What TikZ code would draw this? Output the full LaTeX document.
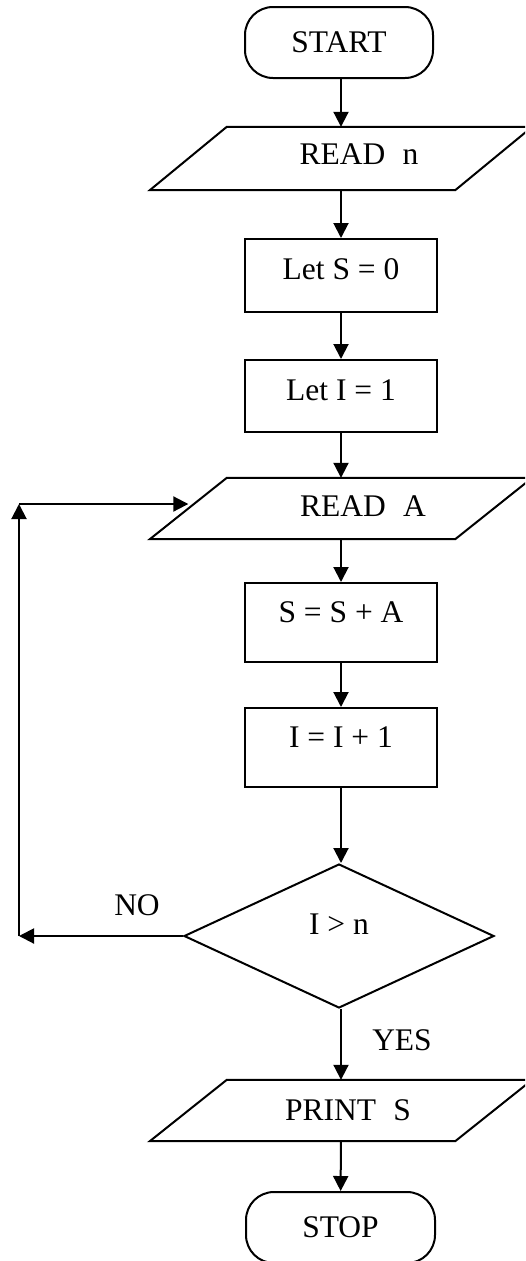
\documentclass[tikz,border=0pt]{standalone}
\usepackage{fontspec}
\setmainfont{Liberation Serif}
\usetikzlibrary{arrows.meta,shapes.geometric}
\tikzset{
  every node/.style={font=\fontsize{31.5}{36}\selectfont, inner sep=0pt},
  ln/.style={line width=2pt},
  arr/.style={ln, -{Triangle[length=15pt,width=15pt]}},
  term/.style={ln, draw, rectangle, rounded corners=28pt, minimum width=188pt, minimum height=71pt},
  procbox/.style={ln, draw, rectangle, minimum width=192pt},
  iobox/.style={rectangle, minimum width=305pt},
  decbox/.style={ln, draw, diamond, minimum width=310pt, minimum height=144pt},
}
\newcommand{\para}[1]{%
  \draw[ln] ([xshift=38.5pt]#1.north west) -- ([xshift=38.5pt]#1.north east)
    -- ([xshift=-38.5pt]#1.south east) -- ([xshift=-38.5pt]#1.south west) -- cycle;}
\begin{document}
\begin{tikzpicture}[x=1pt,y=-1pt]
\useasboundingbox (0,0) rectangle (525,1261);
\clip (0,0) rectangle (525,1261);
\node[term] (start) at (339,42.5) {START};
\node[iobox, minimum height=63pt, label={[xshift=18pt,yshift=4pt]center:{READ\hspace{0.55em}n}}] (readn) at (341,158.5) {};
\para{readn}
\node[procbox, minimum height=73pt, label={[yshift=6pt]center:{Let S = 0}}] (lets) at (341,275.5) {};
\node[procbox, minimum height=72pt, label={[yshift=6pt]center:{Let I = 1}}] (leti) at (341,396) {};
\node[iobox, minimum height=61pt, label={[xshift=22pt,yshift=2pt]center:{READ\hspace{0.55em}A}}] (reada) at (341,508.5) {};
\para{reada}
\node[procbox, minimum height=79pt, label={[yshift=10pt]center:{S = S + A}}] (ssa) at (341,622.5) {};
\node[procbox, minimum height=79pt, label={[yshift=10pt]center:{I = I + 1}}] (iii) at (341,747.5) {};
\node[decbox, label={[yshift=12pt]center:{I > n}}] (dec) at (339,936) {};
\node[iobox, minimum height=61pt, label={[xshift=7pt]center:{PRINT\hspace{0.55em}S}}] (print) at (341,1110.5) {};
\para{print}
\node[term, minimum width=189pt] (stop) at (340.5,1227.5) {STOP};

\node (no) at (137,905) {NO};
\node (yes) at (402,1040) {YES};

\coordinate (c0) at (19,936);
\coordinate (c1) at (19,504);

\draw[arr] (start.south -| readn.north) -- (readn.north);
\draw[arr] (readn) -- (lets);
\draw[arr] (lets) -- (leti);
\draw[arr] (leti) -- (reada);
\draw[arr] (reada) -- (ssa);
\draw[arr] (ssa) -- (iii);
\draw[arr] (iii.south) -- (iii.south |- dec.north);
\draw[arr] (dec.south -| print.north) -- (print.north);
\draw[arr] (print) -- (stop);
\draw[arr] (dec.west) -- (c0);
\draw[arr] (c0) -- (c1);
\draw[arr] (c1) -- (c1 -| reada.west);
\end{tikzpicture}
\end{document}
